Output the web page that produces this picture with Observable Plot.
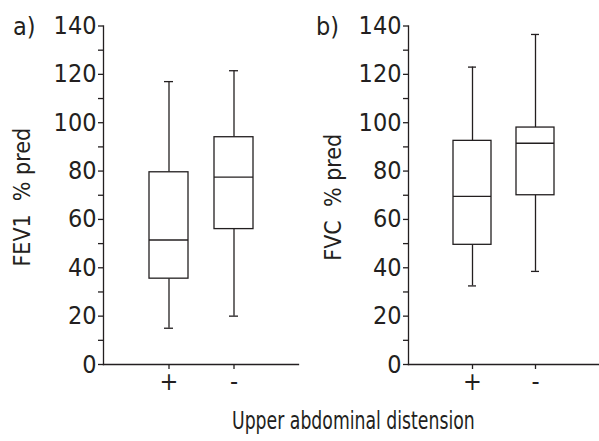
<!DOCTYPE html>
<html><head><meta charset="utf-8">
<script src="https://cdn.jsdelivr.net/npm/d3@7"></script>
<script src="https://cdn.jsdelivr.net/npm/@observablehq/plot@0.6"></script>
<style>
body{margin:0;background:#fff;font-family:"DejaVu Sans Condensed","Liberation Sans",sans-serif;color:#231f20}
#wrap{position:relative;width:599px;height:441px;overflow:hidden}
#pa{position:absolute;left:0;top:0}
#pb{position:absolute;left:300px;top:0}
.lab{position:absolute;font-size:25px;line-height:1;white-space:nowrap}
#cap{font-size:24px;transform:scaleX(0.8);transform-origin:left top}
</style></head><body>
<div id="wrap">
<div id="pa"></div><div id="pb"></div>
<div class="lab" style="left:13px;top:14px">a)</div>
<div class="lab" style="left:316px;top:14px">b)</div>
<div class="lab" id="cap" style="left:232px;top:409px">Upper abdominal distension</div>
</div>
<script>
const groups = ["+", "-"];
const fevMin = [15, 20];
const fevQ1  = [35.5, 56];
const fevMed = [51.5, 77.5];
const fevQ3  = [79.5, 94];
const fevMax = [117, 121.5];
const fvcMin = [32.5, 38.5];
const fvcQ1  = [49.5, 70];
const fvcMed = [69.5, 91.5];
const fvcQ3  = [92.5, 98];
const fvcMax = [123, 136.5];
const yTicks = [0, 10, 20, 30, 40, 50, 60, 70, 80, 90, 100, 110, 120, 130, 140];
const yLabels = ["0", "20", "40", "60", "80", "100", "120", "140"];

function rows(mn, q1, md, q3, mx) {
  return groups.map((g, i) => ({g, min: mn[i], q1: q1[i], med: md[i], q3: q3[i], max: mx[i]}));
}

const ink = "#231f20";
const sw = 1.3;

function panel(data, ylabel, width, marginLeft, marginRight, labelDx) {
  return Plot.plot({
    width, height: 400,
    marginLeft, marginRight, marginTop: 25.5, marginBottom: 36,
    x: {domain: groups, paddingInner: 0.4, paddingOuter: 0.7, label: null},
    y: {domain: [0, 140], label: null},
    style: {fontFamily: '"DejaVu Sans Condensed","Liberation Sans",sans-serif', fontSize: "25px", color: ink, overflow: "visible", background: "white"},
    marks: [
      Plot.axisY({ticks: yTicks, tickFormat: d => yLabels.includes(String(d)) ? String(d) : "", tickSize: 5, tickPadding: 2, label: null, strokeWidth: sw}),
      Plot.axisX({tickSize: 5, tickPadding: 3, label: null, strokeWidth: sw}),
      Plot.frame({anchor: "left", stroke: ink, strokeWidth: sw}),
      Plot.frame({anchor: "bottom", stroke: ink, strokeWidth: sw}),
      Plot.ruleX(data, {x: "g", y1: "q3", y2: "max", stroke: ink, strokeWidth: sw}),
      Plot.ruleX(data, {x: "g", y1: "min", y2: "q1", stroke: ink, strokeWidth: sw}),
      Plot.barY(data, {x: "g", y1: "q1", y2: "q3", fill: "white", stroke: ink, strokeWidth: sw}),
      Plot.tickY(data, {x: "g", y: "med", stroke: ink, strokeWidth: sw}),
      Plot.tickY(data, {x: "g", y: "max", inset: 15, stroke: ink, strokeWidth: sw}),
      Plot.tickY(data, {x: "g", y: "min", inset: 15, stroke: ink, strokeWidth: sw}),
      Plot.text([ylabel], {frameAnchor: "left", dx: labelDx, dy: 2, rotate: -90, textAnchor: "middle", fill: ink, fontSize: 23})
    ]
  });
}

document.getElementById("pa").append(panel(rows(fevMin, fevQ1, fevMed, fevQ3, fevMax), "FEV1  % pred", 300, 103, 2, -81));
document.getElementById("pb").append(panel(rows(fvcMin, fvcQ1, fvcMed, fvcQ3, fvcMax), "FVC  % pred", 299, 108, 1, -75));
</script>
</body></html>
